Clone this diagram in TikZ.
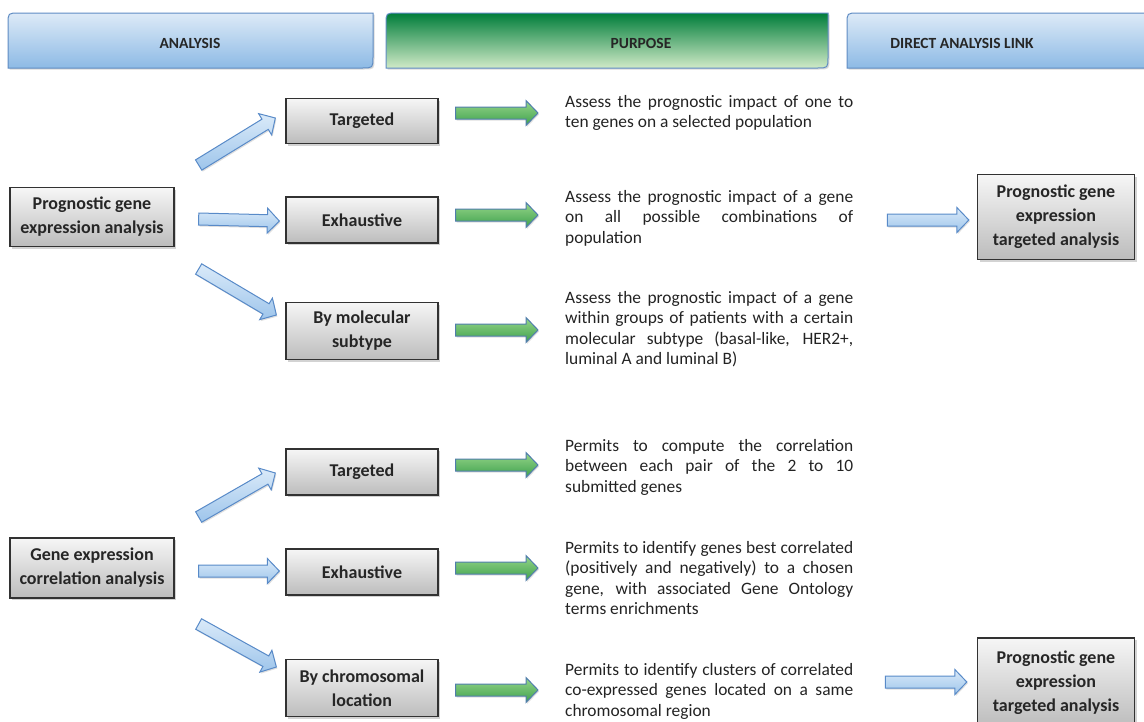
\documentclass[tikz,border=0pt]{standalone}
\usepackage{fontspec}
\setmainfont{Carlito}
\usetikzlibrary{calc, shadows}

\definecolor{hdrtop}{RGB}{221,234,247}
\definecolor{hdrbottom}{RGB}{141,186,229}
\definecolor{hdredge}{RGB}{95,140,195}
\definecolor{grntop}{RGB}{0,125,58}
\definecolor{grnmid}{RGB}{120,190,118}
\definecolor{grnbottom}{RGB}{208,234,199}
\definecolor{boxtop}{RGB}{246,246,246}
\definecolor{boxbottom}{RGB}{188,188,188}
\definecolor{boxedge}{RGB}{50,50,50}
\definecolor{bluetop}{RGB}{218,234,249}
\definecolor{bluebottom}{RGB}{158,197,235}
\definecolor{blueedge}{RGB}{88,138,200}
\definecolor{greentop}{RGB}{150,214,138}
\definecolor{greenbottom}{RGB}{62,160,76}
\definecolor{greenedge}{RGB}{80,125,172}
\definecolor{bodytext}{RGB}{35,35,35}

\tikzset{
  hdrblue/.style={draw=hdredge, line width=1pt, top color=hdrtop, bottom color=hdrbottom,
    drop shadow={opacity=0.3, shadow xshift=1.5pt, shadow yshift=-1.5pt}},
  hdrgreen/.style={draw=hdredge, line width=1pt, top color=grntop, middle color=grnmid, bottom color=grnbottom,
    drop shadow={opacity=0.3, shadow xshift=1.5pt, shadow yshift=-1.5pt}},
  hdrtext/.style={font=\bfseries\fontsize{15.5}{18}\selectfont, text=black!85},
  greybox/.style={draw=boxedge, line width=1.3pt, top color=boxtop, bottom color=boxbottom,
    align=center, inner sep=0pt, font=\bfseries\fontsize{18}{24}\selectfont, text=black!85,
    drop shadow={opacity=0.35, shadow xshift=2pt, shadow yshift=-2pt}},
  purpose/.style={anchor=west, text width=288pt, align=justify, inner sep=0pt,
    font=\fontsize{17.4}{20.5}\selectfont, text=bodytext},
  bluearrow/.style={draw=blueedge, line width=1pt, top color=bluetop, bottom color=bluebottom,
    drop shadow={opacity=0.25, shadow xshift=1pt, shadow yshift=-1.5pt}},
  greenarrow/.style={draw=greenedge, line width=1pt, top color=greentop, bottom color=greenbottom,
    drop shadow={opacity=0.25, shadow xshift=1pt, shadow yshift=-1.5pt}}
}

% block arrow from #2 to #3
\newcommand{\blockarrow}[3][]{%
  \coordinate (ba) at (#2);
  \coordinate (bb) at (#3);
  \coordinate (bc) at ($(bb)!12pt!(ba)$);
  \path[#1] ($(ba)!6pt!90:(bb)$) -- ($(bc)!6pt!90:(bb)$) -- ($(bc)!12.5pt!90:(bb)$) -- (bb)
    -- ($(bc)!12.5pt!-90:(bb)$) -- ($(bc)!6pt!-90:(bb)$) -- ($(ba)!6pt!-90:(bb)$) -- cycle;
}

\begin{document}
\begin{tikzpicture}[x=1pt, y=-1pt]
  \useasboundingbox (0,0) rectangle (1144,721);

  % Column headers
  \path[hdrblue] (8,68) -- (8,24) .. controls (8,13) .. (19,13) -- (373,13)
    -- (373,57) .. controls (373,68) .. (362,68) -- cycle;
  \path[hdrgreen] (386,68) -- (386,24) .. controls (386,13) .. (397,13) -- (828,13)
    -- (828,57) .. controls (828,68) .. (817,68) -- cycle;
  \path[hdrblue] (847,68) -- (847,24) .. controls (847,13) .. (858,13) -- (1160,13)
    -- (1160,68) -- cycle;
  \node[hdrtext] (hana) at (190,43) {ANALYSIS};
  \node[hdrtext] (hpur) at (641,43) {PURPOSE};
  \node[hdrtext] (hlink) at (962,43) {DIRECT ANALYSIS LINK};

  % Prognostic branch
  \node[greybox, minimum width=164pt, minimum height=59pt] (pga) at (92,217) {Prognostic gene\\expression analysis};
  \node[greybox, minimum width=152pt, minimum height=45pt] (tg1) at (362,121) {Targeted};
  \node[greybox, minimum width=152pt, minimum height=46pt] (ex1) at (362,220) {Exhaustive};
  \node[greybox, minimum width=152pt, minimum height=57pt] (mo1) at (362,331) {By molecular\\subtype};

  % Correlation branch
  \node[greybox, minimum width=164pt, minimum height=60pt] (gca) at (92,568) {Gene expression\\correlation analysis};
  \node[greybox, minimum width=152pt, minimum height=46pt] (tg2) at (362,472) {Targeted};
  \node[greybox, minimum width=152pt, minimum height=46pt] (ex2) at (362,572) {Exhaustive};
  \node[greybox, minimum width=152pt, minimum height=57pt] (ch2) at (362,688) {By chromosomal\\location};

  % Purpose texts
  \node[purpose] (t1) at (565,113) {Assess the prognostic impact of one to\linebreak ten genes on a selected population};
  \node[purpose] (t2) at (565,218) {Assess the prognostic impact of a gene\linebreak on all possible combinations of\linebreak population};
  \node[purpose] (t3) at (565,329) {Assess the prognostic impact of a gene\linebreak within groups of patients with a certain\linebreak molecular subtype (basal-like, HER2+,\linebreak luminal A and luminal B)};
  \node[purpose] (t4) at (565,467) {Permits to compute the correlation\linebreak between each pair of the 2 to 10\linebreak submitted genes};
  \node[purpose] (t5) at (565,578) {Permits to identify genes best correlated\linebreak (positively and negatively) to a chosen\linebreak gene, with associated Gene Ontology\linebreak terms enrichments};
  \node[purpose] (t6) at (565,691) {Permits to identify clusters of correlated\linebreak co-expressed genes located on a same\linebreak chromosomal region};

  % Direct links
  \node[greybox, minimum width=157pt, minimum height=85pt] (rb1) at (1056,217) {Prognostic gene\\expression\\targeted analysis};
  \node[greybox, minimum width=157pt, minimum height=90pt] (rb2) at (1056,683) {Prognostic gene\\expression\\targeted analysis};

  % Branch arrows
  \blockarrow[bluearrow]{[shift={(24,-52)}]pga.east}{[shift={(-10,-3)}]tg1.west}
  \blockarrow[bluearrow]{[shift={(24,2)}]pga.east}{[shift={(-6,1)}]ex1.west}
  \blockarrow[bluearrow]{[shift={(24,52)}]pga.east}{[shift={(-9,-16)}]mo1.west}
  \blockarrow[bluearrow]{[shift={(24,-51)}]gca.east}{[shift={(-10,1)}]tg2.west}
  \blockarrow[bluearrow]{[shift={(24,3)}]gca.east}{[shift={(-6,-1)}]ex2.west}
  \blockarrow[bluearrow]{[shift={(24,56)}]gca.east}{[shift={(-9,-21)}]ch2.west}

  % Purpose arrows
  \blockarrow[greenarrow]{[shift={(17,-8)}]tg1.east}{[shift={(-27,0)}]t1.west}
  \blockarrow[greenarrow]{[shift={(17,-5)}]ex1.east}{[shift={(-27,-3)}]t2.west}
  \blockarrow[greenarrow]{[shift={(17,-1)}]mo1.east}{[shift={(-27,1)}]t3.west}
  \blockarrow[greenarrow]{[shift={(17,-7)}]tg2.east}{[shift={(-27,-2)}]t4.west}
  \blockarrow[greenarrow]{[shift={(17,-4)}]ex2.east}{[shift={(-27,-10)}]t5.west}
  \blockarrow[greenarrow]{[shift={(17,2)}]ch2.east}{[shift={(-27,-1)}]t6.west}

  % Link arrows
  \blockarrow[bluearrow]{[shift={(34,2)}]t2.east}{[shift={(-8,3)}]rb1.west}
  \blockarrow[bluearrow]{[shift={(32,-9)}]t6.east}{[shift={(-10,-1)}]rb2.west}
\end{tikzpicture}
\end{document}
